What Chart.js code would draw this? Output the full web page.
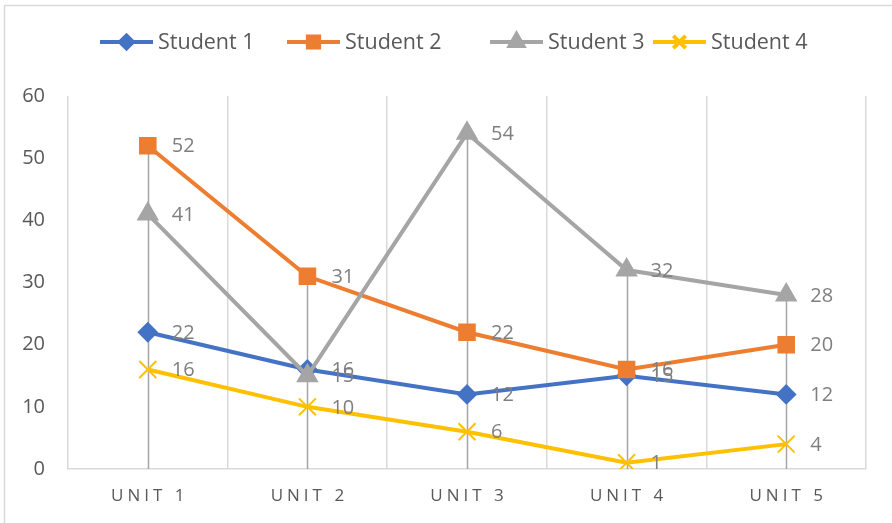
<!DOCTYPE html>
<html>
<head>
<meta charset="utf-8">
<script src="https://cdn.jsdelivr.net/npm/chart.js@4.4.1/dist/chart.umd.min.js"></script>
<style>
  html, body { margin: 0; padding: 0; background: #fff; }
  canvas { display: block; }
</style>
</head>
<body>
<canvas id="chart" width="892" height="523"></canvas>
<script>
// units and scores per student
const units = ['UNIT 1', 'UNIT 2', 'UNIT 3', 'UNIT 4', 'UNIT 5'];
const student1 = [22, 16, 12, 15, 12];
const student2 = [52, 31, 22, 16, 20];
const student3 = [41, 15, 54, 32, 28];
const student4 = [16, 10, 6, 1, 4];
const yTicks = [0, 10, 20, 30, 40, 50, 60];

const FONT = "'Open Sans', sans-serif";
const TEXT = '#595959';
const LABEL = '#7f7f7f';
const GRID = '#d9d9d9';

const series = [
    { label: 'Student 1', data: student1, color: '#4472C4', style: 'rectRot', radius: 9, legendX: 100 },
    { label: 'Student 2', data: student2, color: '#ED7D31', style: 'rect', radius: 11, legendX: 287 },
    { label: 'Student 3', data: student3, color: '#A5A5A5', style: 'triangle', radius: 11, legendX: 490 },
    { label: 'Student 4', data: student4, color: '#FFC000', style: 'crossRot', radius: 12, legendX: 653 }
];

// outer frame, drop lines, value labels, legend and letter-spaced unit names
const extras = {
    id: 'extras',
    beforeDraw(chart) {
        const ctx = chart.ctx;
        ctx.save();
        ctx.strokeStyle = GRID;
        ctx.lineWidth = 1.5;
        ctx.strokeRect(4.5, 5.5, 1000, 1000);
        ctx.restore();
    },
    beforeDatasetsDraw(chart) {
        const ctx = chart.ctx;
        const x = chart.scales.x, y = chart.scales.y;
        ctx.save();
        ctx.strokeStyle = '#A5A5A5';
        ctx.lineWidth = 1.5;
        units.forEach((u, i) => {
            const top = Math.max(...series.map(s => s.data[i]));
            const px = Math.round(x.getPixelForValue(i)) + 0.5;
            ctx.beginPath();
            ctx.moveTo(px, y.getPixelForValue(top));
            ctx.lineTo(px, y.getPixelForValue(0));
            ctx.stroke();
        });
        ctx.restore();
    },
    afterDatasetsDraw(chart) {
        const ctx = chart.ctx;
        ctx.save();
        ctx.font = `20px ${FONT}`;
        ctx.fillStyle = LABEL;
        ctx.textBaseline = 'middle';
        ctx.textAlign = 'left';
        chart.data.datasets.forEach((ds, di) => {
            chart.getDatasetMeta(di).data.forEach((pt, i) => {
                ctx.fillText(String(ds.data[i]), pt.x + 24, pt.y + 1);
            });
        });
        ctx.restore();
    },
    afterDraw(chart) {
        const ctx = chart.ctx;
        const x = chart.scales.x;
        ctx.save();
        // unit names under the axis
        ctx.font = `17px ${FONT}`;
        ctx.fillStyle = TEXT;
        ctx.textBaseline = 'middle';
        ctx.letterSpacing = '4px';
        units.forEach((u, i) => {
            const w = ctx.measureText(u).width - 4;
            ctx.fillText(u, x.getPixelForValue(i) - w / 2, 496);
        });
        ctx.letterSpacing = '0px';
        // legend
        const ly = 42;
        series.forEach(s => {
            ctx.strokeStyle = s.color;
            ctx.lineWidth = 4;
            ctx.beginPath();
            ctx.moveTo(s.legendX, ly);
            ctx.lineTo(s.legendX + 53, ly);
            ctx.stroke();
            Chart.helpers.drawPoint(ctx, {
                pointStyle: s.style,
                radius: s.radius * 0.72,
                borderWidth: 2,
                rotation: 0
            }, s.legendX + 26.5, ly);
            ctx.fillStyle = s.color;
            ctx.strokeStyle = s.color;
            ctx.lineWidth = 2;
            if (s.style === 'crossRot') ctx.stroke(); else { ctx.fill(); ctx.stroke(); }
            ctx.font = `21.5px ${FONT}`;
            ctx.fillStyle = TEXT;
            ctx.fillText(s.label, s.legendX + 58, ly + 1);
        });
        ctx.restore();
    }
};

new Chart(document.getElementById('chart'), {
    type: 'line',
    data: {
        labels: units,
        datasets: series.map((s, i) => ({
            label: s.label,
            data: s.data,
            borderColor: s.color,
            backgroundColor: s.color,
            borderWidth: 4,
            pointStyle: s.style,
            pointRadius: s.radius,
            pointBorderWidth: 2,
            pointBackgroundColor: s.color,
            pointBorderColor: s.color,
            tension: 0,
            order: series.length - 1 - i
        }))
    },
    options: {
        responsive: false,
        animation: false,
        devicePixelRatio: 1,
        layout: { padding: { top: 96, right: 26, left: 0, bottom: 0 } },
        plugins: { legend: { display: false }, tooltip: { enabled: false } },
        scales: {
            x: {
                offset: true,
                grid: { offset: true, color: GRID, lineWidth: 1.5, drawTicks: false },
                border: { color: GRID, width: 1.5 },
                ticks: { display: false },
                afterFit: s => { s.height = 54; }
            },
            y: {
                min: 0,
                max: 60,
                afterBuildTicks: s => { s.ticks = yTicks.map(v => ({ value: v })); },
                grid: { display: false, drawTicks: false },
                border: { display: false },
                ticks: { color: TEXT, font: { family: FONT, size: 20 }, padding: 23 },
                afterFit: s => { s.width = 68; }
            }
        }
    },
    plugins: [extras]
});
</script>
</body>
</html>
